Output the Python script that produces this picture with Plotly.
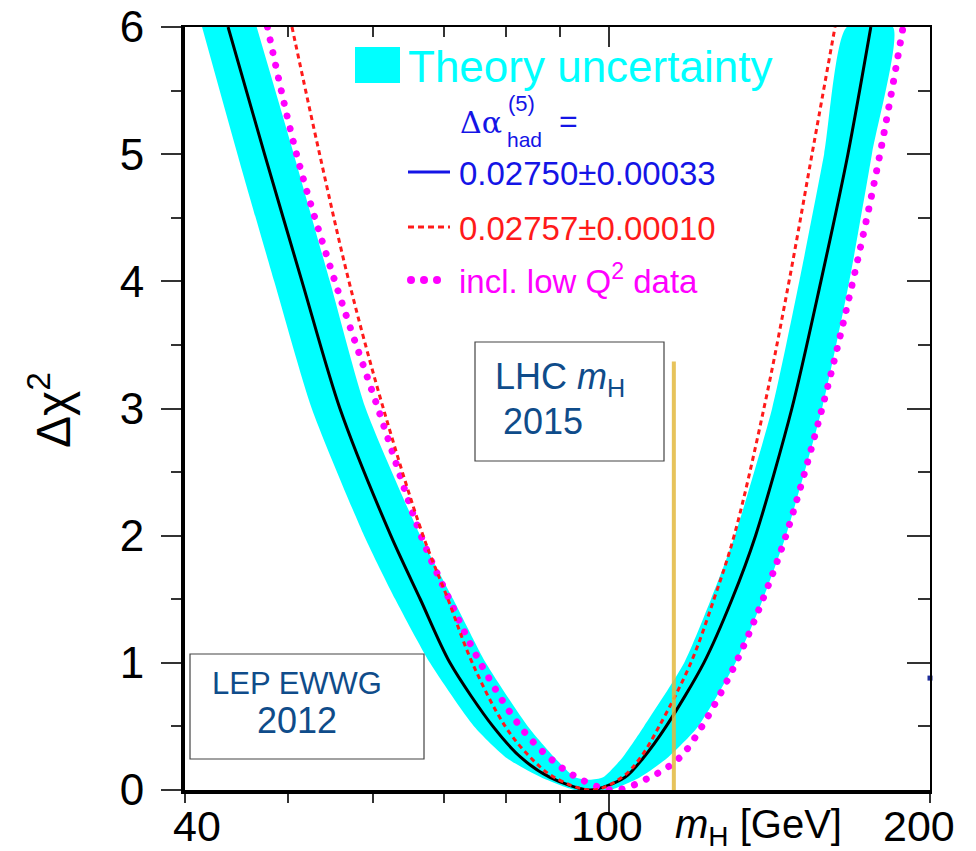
import math
import plotly.graph_objects as go

# ---- data -----------------------------------------------------------------
# Δχ² sampling levels shared by the three fit curves (left branch down, right branch up)
dchi2_levels = [6, 5, 4, 3, 2, 1.5, 1, 0.5, 0.25, 0.1, 0,
                0.1, 0.25, 0.5, 1, 1.5, 2, 3, 4, 5, 6]

# Δα_had = 0.02750 ± 0.00033 (central fit)
mh_central = [43.9, 47.5, 51.5, 55.9, 62.4, 66.5, 70.9, 77.8, 82.8, 88.0, 95.9,
              103.5, 107.6, 113.1, 122.7, 130.4, 137.2, 148.4, 158.0, 167.5, 176.0]
# Δα_had = 0.02757 ± 0.00010
mh_alt = [50.4, 53.5, 57.0, 61.4, 66.9, 70.6, 74.4, 79.9, 84.5, 88.8, 96.5,
          102.8, 106.9, 111.4, 119.3, 125.4, 131.0, 139.7, 147.5, 155.0, 162.9]
# incl. low Q² data
mh_lowq2 = [47.8, 50.9, 55.3, 60.7, 66.6, 70.8, 75.7, 82.5, 88.0, 93.3, 101.0,
            109.2, 116.3, 122.2, 131.5, 139.4, 146.5, 158.4, 169.3, 179.5, 188.7]

# theory-uncertainty band outline
band_outer_left_mh = [41.5, 44.8, 48.5, 52.6, 58.9, 63.0, 67.9, 74.7, 80.2, 86.3, 92.9]
band_outer_left_d = [6, 5, 4, 3, 2, 1.5, 1, 0.5, 0.25, 0.1, 0]
band_outer_right_mh = [100.2, 106.9, 113.3, 121.2, 131.4, 139.4, 146.5, 158.4, 168.0, 176.4, 184.6]
band_outer_right_d = [0, 0.1, 0.25, 0.5, 1, 1.5, 2, 3, 4, 5, 6]
band_inner_right_mh = [167.1, 159.1, 150.8, 142.2, 131.2, 124.6, 117.6, 107.8, 102.8, 98.7]
band_inner_right_d = [6, 5, 4, 3, 2, 1.5, 1, 0.5, 0.25, 0.1]
band_inner_bottom_mh = [95.9]
band_inner_bottom_d = [0.08]
band_inner_left_mh = [92.9, 89.0, 83.9, 76.6, 71.4, 66.5, 59.1, 54.7, 50.6, 46.7]
band_inner_left_d = [0.1, 0.25, 0.5, 1, 1.5, 2, 3, 4, 5, 6]

# LHC Higgs mass marker
lhc_mh = [115.0, 115.0]
lhc_d = [0, 3.37]

# small reference marks on the frame
frame_mark_mh = [40, 200]
frame_mark_d = [0.88, 0.88]

x_tick_vals = [40, 100, 200]
x_tick_text = ["40", "100", "200"]
x_minor_vals = [40, 50, 60, 70, 80, 90, 200]
x_major_vals = [100]
y_tick_vals = [0, 1, 2, 3, 4, 5, 6]
y_minor_vals = [0.5, 1.5, 2.5, 3.5, 4.5, 5.5]

# ---- styling --------------------------------------------------------------
W, H = 976, 851
L, R, T, B = 185, 930, 27, 790  # plot area in pixels
FONT = "Liberation Sans, Arial, Helvetica, sans-serif"
CYAN = "#00FFFF"
BLUE = "#1414E6"
RED = "#FF1A1A"
MAG = "#FF00FF"
NAVY = "#0F4C8A"
TICK = "#333333"


def px(x):
    return (x - L) / (R - L)


def py(y):
    return (B - y) / (B - T)


fig = go.Figure()

band_x = (band_outer_left_mh + band_outer_right_mh + band_inner_right_mh
          + band_inner_bottom_mh + band_inner_left_mh)
band_y = (band_outer_left_d + band_outer_right_d + band_inner_right_d
          + band_inner_bottom_d + band_inner_left_d)
fig.add_trace(go.Scatter(x=band_x, y=band_y, mode="lines", fill="toself",
                         fillcolor=CYAN, line=dict(width=0, shape="spline", smoothing=0.6),
                         hoverinfo="skip", showlegend=False))

fig.add_trace(go.Scatter(x=mh_central, y=dchi2_levels, mode="lines",
                         line=dict(color="black", width=3, shape="spline", smoothing=0.8),
                         showlegend=False))
fig.add_trace(go.Scatter(x=mh_lowq2, y=dchi2_levels, mode="lines",
                         line=dict(color=MAG, width=7, shape="spline", dash="dot"),
                         showlegend=False))
fig.add_trace(go.Scatter(x=mh_alt, y=dchi2_levels, mode="lines",
                         line=dict(color=RED, width=3, shape="spline", dash="5px,4px"),
                         showlegend=False))
fig.add_trace(go.Scatter(x=lhc_mh, y=lhc_d, mode="lines",
                         line=dict(color="#E3B93F", width=4), opacity=0.85,
                         showlegend=False))
fig.add_trace(go.Scatter(x=frame_mark_mh, y=frame_mark_d, mode="markers",
                         marker=dict(symbol="square", size=5, color="#1E2C9A"),
                         cliponaxis=False, showlegend=False))
# carrier for the top/right frame axes
fig.add_trace(go.Scatter(x=[], y=[], xaxis="x2", yaxis="y2", showlegend=False))

xrange = [math.log10(40), math.log10(200)]
fig.update_layout(
    width=W, height=H,
    margin=dict(l=L, r=W - R, t=T, b=H - B, autoexpand=False),
    paper_bgcolor="white", plot_bgcolor="white",
    font=dict(family=FONT, color="black"),
    xaxis=dict(type="log", range=xrange, showline=True, linewidth=4, linecolor="black",
               ticks="outside", tickmode="array", tickvals=x_major_vals, ticklen=20,
               tickwidth=2, tickcolor=TICK, showticklabels=False, automargin=False,
               minor=dict(tickmode="array", tickvals=x_minor_vals, ticks="outside",
                          ticklen=9, tickwidth=2, tickcolor=TICK),
               showgrid=False, zeroline=False),
    yaxis=dict(range=[0, 6], showline=True, linewidth=4, linecolor="black",
               ticks="outside", tickmode="array", tickvals=y_tick_vals, ticklen=20,
               tickwidth=2, tickcolor=TICK, tickfont=dict(size=44, color="black"),
               ticklabelstandoff=8, automargin=False, layer="below traces",
               minor=dict(tickmode="array", tickvals=y_minor_vals, ticks="outside",
                          ticklen=10, tickwidth=2, tickcolor=TICK),
               showgrid=False, zeroline=False),
    xaxis2=dict(type="log", range=xrange, overlaying="x", side="top", anchor="y",
                showline=True, linewidth=2, linecolor="black", automargin=False,
                ticks="inside", tickmode="array", tickvals=x_major_vals, ticklen=20,
                tickwidth=2, tickcolor=TICK, showticklabels=False,
                minor=dict(tickmode="array", tickvals=x_minor_vals, ticks="inside",
                           ticklen=10, tickwidth=2, tickcolor=TICK),
                showgrid=False, zeroline=False),
    yaxis2=dict(range=[0, 6], overlaying="y", side="right", anchor="x",
                showline=True, linewidth=2, linecolor="black", automargin=False,
                ticks="inside", tickmode="array", tickvals=y_tick_vals, ticklen=23,
                tickwidth=2, tickcolor=TICK, showticklabels=False,
                minor=dict(tickmode="array", tickvals=y_minor_vals, ticks="inside",
                           ticklen=12, tickwidth=2, tickcolor=TICK),
                showgrid=False, zeroline=False),
)

ann = []
shapes = []


def text(x, y, s, size, color, xanchor="left", font=FONT, angle=0):
    ann.append(dict(xref="paper", yref="paper", x=px(x), y=py(y), text=s,
                    showarrow=False, xanchor=xanchor, yanchor="middle",
                    textangle=angle, font=dict(size=size, color=color, family=font)))


# x tick labels on the data axis
for v, t, shift in zip(x_tick_vals, x_tick_text, [12, -2, -11]):
    ann.append(dict(xref="x", yref="paper", x=math.log10(v), y=py(826), text=t,
                    showarrow=False, xanchor="center", yanchor="middle", xshift=shift,
                    font=dict(size=43, color="black", family=FONT)))

# axis titles
text(673, 827, "<i>m</i><sub>H</sub> [GeV]", 40, "black")
text(50, 410, "Δχ<sup>2</sup>", 48, "black", xanchor="center", angle=-90)

# legend
shapes.append(dict(type="rect", xref="paper", yref="paper", x0=px(355), x1=px(400),
                   y0=py(83), y1=py(47), fillcolor=CYAN, line=dict(width=0)))
text(406, 66, "Theory uncertainty", 44, CYAN)
text(458, 122, "Δα", 30, BLUE, font="DejaVu Serif, Liberation Serif, serif")
text(505, 139, "had", 21, BLUE)
text(506, 103, "(5)", 22, BLUE)
text(557, 121, "=", 32, BLUE)
shapes.append(dict(type="line", xref="paper", yref="paper", x0=px(408), x1=px(450),
                   y0=py(172), y1=py(172), line=dict(color=BLUE, width=3)))
text(457, 174, "0.02750±0.00033", 33, BLUE)
shapes.append(dict(type="line", xref="paper", yref="paper", x0=px(408), x1=px(450),
                   y0=py(227), y1=py(227), line=dict(color=RED, width=3, dash="6px,4px")))
text(457, 228, "0.02757±0.00010", 33, RED)
for cx in (411, 424, 437):
    shapes.append(dict(type="circle", xref="paper", yref="paper", x0=px(cx - 4),
                       x1=px(cx + 4), y0=py(284), y1=py(276), fillcolor=MAG,
                       line=dict(width=0)))
text(457, 279, "incl. low Q<sup>2</sup> data", 33, MAG)

# label boxes
shapes.append(dict(type="rect", xref="paper", yref="paper", x0=px(190), x1=px(424),
                   y0=py(759), y1=py(654), fillcolor="white",
                   line=dict(color="#444444", width=1.2), layer="above"))
text(297, 683, "LEP EWWG", 31, NAVY, xanchor="center")
text(297, 720, "2012", 36, NAVY, xanchor="center")
shapes.append(dict(type="rect", xref="paper", yref="paper", x0=px(475), x1=px(664),
                   y0=py(461), y1=py(342), fillcolor="white",
                   line=dict(color="#444444", width=1.2), layer="above"))
text(493, 379, "LHC <i>m</i><sub>H</sub>", 36, NAVY)
text(501, 421, "2015", 36, NAVY)

fig.update_layout(annotations=ann, shapes=shapes)

# round the dotted line caps so the low-Q² curve is drawn as round dots
post = """
document.querySelectorAll('.scatterlayer .trace path.js-line').forEach(function(p){
  if (p.style.stroke === 'rgb(255, 0, 255)') {
    p.style.strokeLinecap = 'round';
    p.style.strokeDasharray = '0.01px,13px';
  }
});
"""
fig.write_html("out.html", post_script=post)
